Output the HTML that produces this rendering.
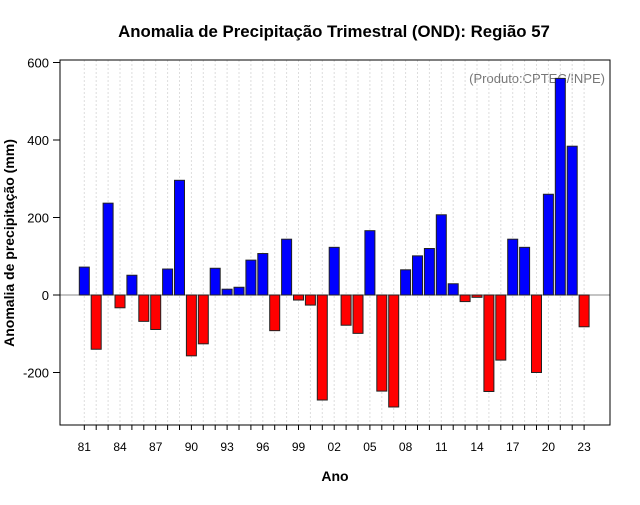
<!DOCTYPE html>
<html><head><meta charset="utf-8"><style>
body{margin:0;background:#fff;}
svg text{font-family:"Liberation Sans",sans-serif;}
</style></head><body>
<svg id="c" width="640" height="500" xmlns="http://www.w3.org/2000/svg">
<rect width="640" height="500" fill="#fff"/>
<text x="334" y="37" text-anchor="middle" font-size="16.8" font-weight="bold">Anomalia de Precipitação Trimestral (OND): Região 57</text>
<text x="335" y="481" text-anchor="middle" font-size="14" font-weight="bold">Ano</text>
<text transform="translate(14,243) rotate(-90)" text-anchor="middle" font-size="14" font-weight="bold">Anomalia de precipitação (mm)</text>
<text x="605" y="83" text-anchor="end" font-size="13" fill="#777">(Produto:CPTEC/INPE)</text>
<g id="grid"></g><g id="bars"></g><g id="axes"></g>
<rect x="60" y="60" width="550" height="365" fill="none" stroke="#000"/>
</svg>
<script>
const years=[1981,1982,1983,1984,1985,1986,1987,1988,1989,1990,1991,1992,1993,1994,1995,1996,1997,1998,1999,2000,2001,2002,2003,2004,2005,2006,2007,2008,2009,2010,2011,2012,2013,2014,2015,2016,2017,2018,2019,2020,2021,2022,2023];
const values=[72,-140,237,-33,51,-68,-89,67,296,-157,-126,69,15,20,90,107,-92,144,-13,-26,-271,123,-78,-99,166,-248,-289,65,101,120,207,29,-17,-6,-249,-168,144,123,-200,260,559,384,-82];
const yTicks=[-200,0,200,400,600];
const NS="http://www.w3.org/2000/svg";
const x=yr=>84.3+(yr-1981)*11.9;
const y=v=>295-v*0.3875;
function mk(t,a,p){const e=document.createElementNS(NS,t);for(const k in a)e.setAttribute(k,a[k]);p.appendChild(e);return e;}
const grid=document.getElementById('grid'),bars=document.getElementById('bars'),axes=document.getElementById('axes');
years.forEach(yr=>{const g=mk('line',{x1:x(yr),x2:x(yr),y1:60,y2:425,stroke:'#ddd','stroke-dasharray':'2,2'},grid);

});
mk('line',{x1:60,x2:610,y1:y(0),y2:y(0),stroke:'#888'},grid);
years.forEach((yr,i)=>{const v=values[i];const r=mk('rect',{x:x(yr)-5,width:10,y:Math.min(y(v),y(0)),height:Math.abs(y(v)-y(0)),fill:v>=0?'#0000ff':'#ff0000',stroke:'#222','stroke-width':1},bars);


const t=mk('line',{x1:x(yr),x2:x(yr),y1:425,y2:430,stroke:'#000'},axes);


if((yr-1981)%3===0){const l=mk('text',{x:x(yr),y:451,'text-anchor':'middle','font-size':12},axes);l.textContent=String(yr%100).padStart(2,'0');

}});
yTicks.forEach(v=>{mk('line',{x1:53,x2:60,y1:y(v),y2:y(v),stroke:'#000'},axes);
const l=mk('text',{x:49,y:y(v)+5,'text-anchor':'end','font-size':13},axes);l.textContent=v;

});
</script>
</body></html>
